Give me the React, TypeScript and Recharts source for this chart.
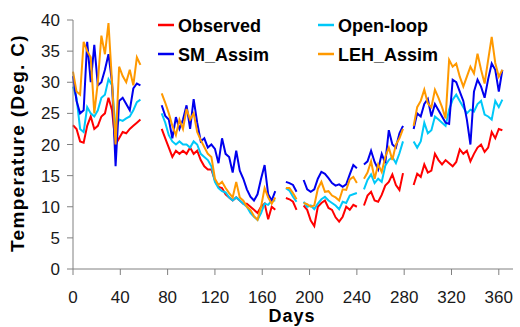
import { Line, LineChart, XAxis, YAxis } from 'recharts';

// sampled every 3 days; null = no data
const DAYS = [
  0, 3, 6, 9, 12, 15, 18, 21, 24, 27, 30, 33, 36, 39, 42, 45, 48, 51, 54, 57,
  60, 63, 66, 69, 72,
  75, 78, 81, 84, 87, 90, 93, 96, 99, 102, 105, 108, 111, 114, 117, 120, 123, 126, 129, 132,
  135, 138, 141, 144, 147, 150, 153, 156, 159, 162, 165, 168, 171,
  174, 177,
  180, 183, 186, 189, 192, 195, 198, 201, 204, 207, 210, 213, 216, 219, 222, 225, 228, 231,
  234, 237, 240, 243, 246, 249, 252, 255, 258, 261, 264, 267, 270, 273, 276, 279,
  282, 285,
  288, 291, 294, 297, 300, 303, 306, 309, 312, 315, 318, 321, 324, 327, 330, 333, 336, 339,
  342, 345, 348, 351, 354, 357, 360, 363,
];

const OBSERVED = [
  23.1, 22.5, 20.5, 20.3, 23, 24.5, 22.5, 23, 24.5, 25, 27.5, 25.5, 20, 21, 22, 21.8, 22.5, 23, 23.5, 24,
  null, null, null, null, null,
  22.5, 21, 19.5, 18, 19, 18.5, 19, 18.5, 19.5, 18.5, 19, 17.5, 16.5, 16, 16, 14.2, 13.2, 13, 12, 11.5,
  11, 11.5, 11, 10.5, 10.5, 10, 9.5, 9, 10, 10.5, 8, 10, 9.5,
  null, null,
  11.4, 11.2, 10.8, 9.5, null, 10.2, 9.5, 7.8, 6.9, 10, 10.6, 11, 9.8, 9.5, 8.3, 7.6, 8.4, 10,
  9.5, 10.3, 10, null, 10.2, 11.8, 12.4, 11, 10.8, 11.9, 13.4, 14, 15.2, 13.5, 12.7, 15.4,
  null, null,
  13.5, 15.3, 14.8, 16.8, 15.5, 15.8, 18.5, 17.5, 16.8, 17.5, 17, 16.5, 17.2, 19.2, 18.5, 19, 17.3, 18.5,
  19.5, 20, 18.8, 19.5, 22, 21, 22.5, 22.3,
];

const OPEN_LOOP = [
  29.3, 27.5, 22.5, 22, 26, 25, 24.5, 25.5, 27.5, 28, 30.5, 29.5, 22.5, 24, 23.8, 24.2, 24.5, 25.5, 26.8, 27.2,
  null, null, null, null, null,
  25, 23.5, 21.5, 20.5, 20, 20.5, 20, 20, 19.5, 20.5, 20, 18.5, 18, 17.5, 16.5, 14, 13, 12.5, 12.3, 11.5,
  11, 11.5, 11, 10.5, 10, 9, 8.4, 7.9, 9, 10.5, 10.3, 11, 11,
  null, null,
  13, 12.6, 11.6, 10.8, null, 10.8, 10, 10.2, 9.6, 10.5, 11.2, 11.6, 11, 10.6, 10.2, 9.6, 10.8, 10.6,
  11.8, 12, 12.2, null, 12.8, 14.3, 15.2, 13.8, 14.5, 14, 16.6, 17.5, 18, 17, 18.6, 20.5,
  null, null,
  20.5, 19.5, 20.5, 23.5, 21.8, 22.3, 24.5, 24, 23.5, 23, 25.6, 27.2, 28, 27, 26, 25, 25.6, 25.3,
  26.5, 27, 24.8, 24.5, 24, 27, 26, 27.2,
];

const SM_ASSIM = [
  31, 27, 25, 25.5, 36.5, 30, 36, 29.5, 30, 32, 34.5, 30, 16.5, 27, 27.5, 26.5, 25.5, 29, 29.8, 29.5,
  null, null, null, null, null,
  26.3, 24.6, 24, 21, 24.4, 22.5, 24, 26.3, 22.5, 27.3, 23.5, 20.5, 21, 19.5, 20, 19.3, 17, 21, 18.5, 18,
  15.5, 19, 15.8, 14.5, 12.8, 11.6, 11, 12, 14.5, 16.7, 12, 11, 12.5,
  null, null,
  14, 13.8, 13.5, 12.4, null, 14.3, 12.8, 12.4, 12.8, 14.5, 15.6, 15.3, 14.6, 13.8, 13.4, 13.6, 13.2, 13.6,
  15.2, 16.7, 16.2, null, 16.8, 17.3, 19, 17.2, 16, 18.5, 17, 22.3, 20, 19.5, 21.8, 23,
  null, null,
  22.5, 25, 24.5, 26.5, 27.3, 24.5, 26.5, 25.5, 24.5, 23.5, 23.3, 30.4, 30, 28.5, 27, 24, 20, 28.5,
  30.4, 29.3, 27.5, 30.5, 33, 32, 28.5, 32,
];

const LEH_ASSIM = [
  31.7, 28.5, 28, 36.5, 35, 34, 25, 30, 37.5, 34.5, 39.5, 30, 20, 32.5, 31, 30, 32, 29.5, 34, 32.8,
  null, null, null, null, null,
  28.2, 26.7, 25, 23, 21.5, 24, 22.5, 25.7, 24, 25, 22, 20.7, 19.6, 18.5, 18, 14.5, 13.5, 14, 13, 12.2,
  11.5, 14, 11.5, 11, 10, 9.5, 8.5, 7.9, 10, 13, 11.5, 10.5, 11.5,
  null, null,
  13, 13, 12.2, 11.2, null, 10.6, 10.4, 10, 10.2, 12.9, 14, 12.4, 12.5, 11.8, 11.5, 11, 12.8, 12.7,
  14.4, 14.8, 13.8, null, 14.5, 15.5, 17.3, 14.5, 16.8, 15.6, 18, 19.5, 17.5, 20, 21, 22.5,
  null, null,
  23, 26, 27, 28.8, 26.6, 26, 28.8, 27.5, 26, 24.2, 33.6, 32.5, 33, 30.9, 29.3, 30.9, 32.5, 31.4,
  34.6, 32, 29.8, 33.6, 37.3, 33.1, 30.9, 32,
];

const X_TICKS = [0, 40, 80, 120, 160, 200, 240, 280, 320, 360];
const Y_TICKS = [0, 5, 10, 15, 20, 25, 30, 35, 40];

const SERIES = [
  { key: 'observed', name: 'Observed', color: '#ff0000' },
  { key: 'openLoop', name: 'Open-loop', color: '#00c8f8' },
  { key: 'smAssim', name: 'SM_Assim', color: '#0000ee' },
  { key: 'lehAssim', name: 'LEH_Assim', color: '#ff9900' },
];

// legend slots: [lineX, textX, rowY]
const LEGEND_POS = [
  [158, 178, 25],
  [318, 338, 25],
  [158, 178, 54],
  [318, 338, 54],
];

const FONT = '"Liberation Sans", Arial, sans-serif';
const AXIS = '#808080';

export default function App() {
  const data = DAYS.map((day, i) => ({
    day,
    observed: OBSERVED[i],
    openLoop: OPEN_LOOP[i],
    smAssim: SM_ASSIM[i],
    lehAssim: LEH_ASSIM[i],
  }));

  return (
    <div
      style={{
        position: 'absolute',
        left: 0,
        top: 0,
        width: 520,
        height: 327,
        background: '#fff',
        fontFamily: FONT,
      }}
    >
      <LineChart width={520} height={327} data={data} margin={{ top: 20, right: 7, bottom: 28, left: 0 }}>
        <XAxis
          dataKey="day"
          type="number"
          domain={[0, 372]}
          ticks={X_TICKS}
          interval={0}
          height={30}
          tickSize={6}
          tickMargin={16}
          stroke={AXIS}
          tick={{ fill: '#1a1a1a', fontSize: 17, fontFamily: FONT }}
        />
        <YAxis
          type="number"
          domain={[0, 40]}
          ticks={Y_TICKS}
          interval={0}
          width={73}
          tickSize={6}
          tickMargin={7}
          stroke={AXIS}
          tick={{ fill: '#1a1a1a', fontSize: 17, fontFamily: FONT }}
        />
        {SERIES.map((s) => (
          <Line
            key={s.key}
            type="linear"
            dataKey={s.key}
            name={s.name}
            stroke={s.color}
            strokeWidth={2}
            dot={false}
            isAnimationActive={false}
          />
        ))}
      </LineChart>
      <svg
        width={520}
        height={327}
        style={{ position: 'absolute', left: 0, top: 0, pointerEvents: 'none' }}
      >
        <text
          transform="translate(24,143) rotate(-90)"
          textAnchor="middle"
          fontSize={19}
          fontWeight="bold"
          letterSpacing={1.3}
          fill="#000"
          fontFamily={FONT}
        >
          Temperature (Deg. C)
        </text>
        <text x={292} y={322} textAnchor="middle" fontSize={18} fontWeight="bold" letterSpacing={1} fill="#000" fontFamily={FONT}>
          Days
        </text>
        {SERIES.map((s, i) => {
          const [lx, tx, y] = LEGEND_POS[i];
          return (
            <g key={s.key}>
              <line x1={lx} x2={lx + 16} y1={y} y2={y} stroke={s.color} strokeWidth={2.5} />
              <text x={tx} y={y + 7} fontSize={18} fontWeight="bold" fill="#000" fontFamily={FONT}>
                {s.name}
              </text>
            </g>
          );
        })}
      </svg>
    </div>
  );
}
